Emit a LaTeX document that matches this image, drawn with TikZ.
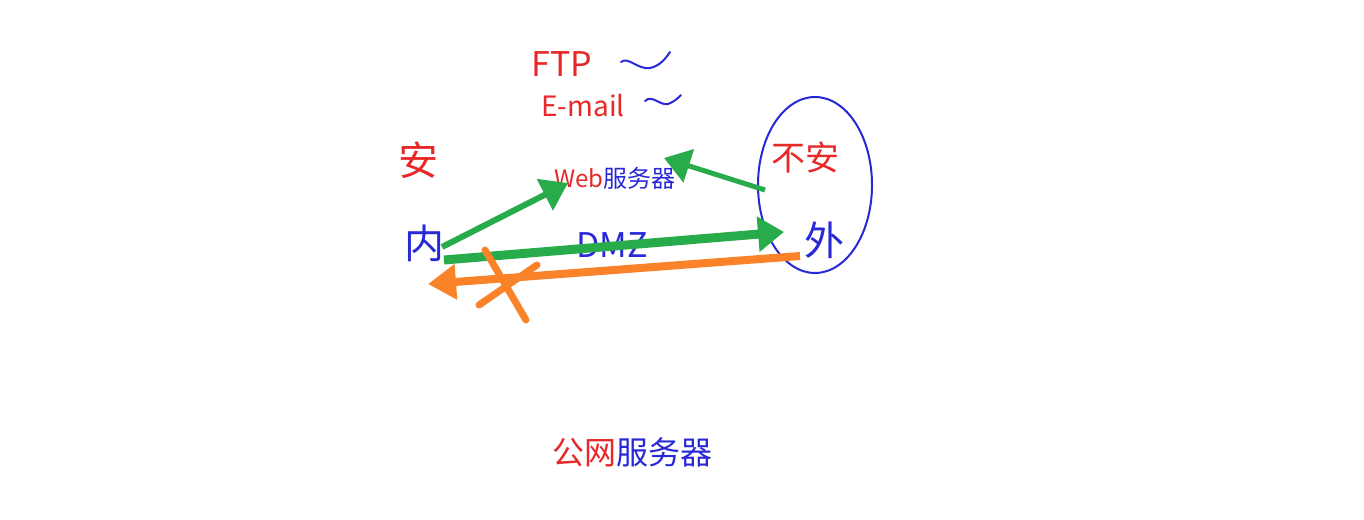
\documentclass[tikz,border=0pt]{standalone}
\usepackage{fontspec}
\setmainfont{Noto Sans CJK SC}
\usetikzlibrary{arrows.meta}
\definecolor{pred}{RGB}{232,40,40}
\definecolor{pblue}{RGB}{40,40,215}
\definecolor{pgreen}{RGB}{40,172,75}
\definecolor{porange}{RGB}{250,130,40}
\tikzset{
  rtext/.style={text=pred,inner sep=0pt},
  btext/.style={text=pblue,inner sep=0pt},
  garrow/.style={draw=pgreen,line width=9pt,-{Triangle[length=26pt,width=34pt]}},
  oarrow/.style={draw=porange,line width=8pt,-{Triangle[length=28pt,width=34pt]}},
  pen/.style={line width=2pt,line cap=round,line join=round}
}
\begin{document}
\begin{tikzpicture}[x=1pt,y=-1pt]
\useasboundingbox[fill=white] (0,0) rectangle (1364,519);
% texts
\node[rtext,font=\fontsize{34}{34}\selectfont] (ftp) at (562,64) {FTP};
\node[rtext,font=\fontsize{28}{28}\selectfont] (email) at (583,106) {E-mail};
\node[rtext,font=\fontsize{40}{40}\selectfont] (an) at (418,160) {安};
\node[btext,font=\fontsize{40}{40}\selectfont] (nei) at (424,243) {内};
\node[inner sep=0pt,font=\fontsize{24}{24}\selectfont] (web) at (615,178) {\textcolor{pred}{Web}\textcolor{pblue}{服务器}};
\node[btext,font=\fontsize{34}{34}\selectfont] (dmz) at (612,245) {DMZ};
\node[rtext,font=\fontsize{34}{34}\selectfont] (buan) at (805,158) {不安};
\node[btext,font=\fontsize{40}{40}\selectfont] (wai) at (824,240) {外};
\node[inner sep=0pt,font=\fontsize{32}{32}\selectfont] (gw) at (632,452) {\textcolor{pred}{公网}\textcolor{pblue}{服务器}};
% tildes
\draw[pblue,pen] (621,62) .. controls (628,56) and (638,70) .. (650,68) .. controls (660,66) and (666,58) .. (670,52);
\draw[pblue,pen] (645,101) .. controls (652,94) and (660,106) .. (668,104) .. controls (674,102) and (678,98) .. (681,95);
% circle
\draw[pblue,pen] (815,185) ellipse [x radius=57,y radius=88];
% coordinates
\coordinate (n1) at (442,247);
\coordinate (w1) at (568,183);
\coordinate (o1) at (765,190);
\coordinate (w2) at (664,158);
\coordinate (n2) at (444,260);
\coordinate (x1) at (784,232);
\coordinate (x2) at (800,256);
\coordinate (n3) at (428,284);
% arrows
\draw[garrow,line width=6pt] (n1) -- (w1);
\draw[garrow,line width=5pt] (o1) -- (w2);
\draw[garrow] (n2) -- (x1);
\draw[oarrow] (x2) -- (n3);
% cross
\coordinate (c1) at (485,250);
\coordinate (c2) at (526,320);
\coordinate (c3) at (479,305);
\coordinate (c4) at (537,265);
\draw[porange,line width=7pt,line cap=round] (c1) -- (c2);
\draw[porange,line width=7pt,line cap=round] (c3) -- (c4);
\end{tikzpicture}
\end{document}
